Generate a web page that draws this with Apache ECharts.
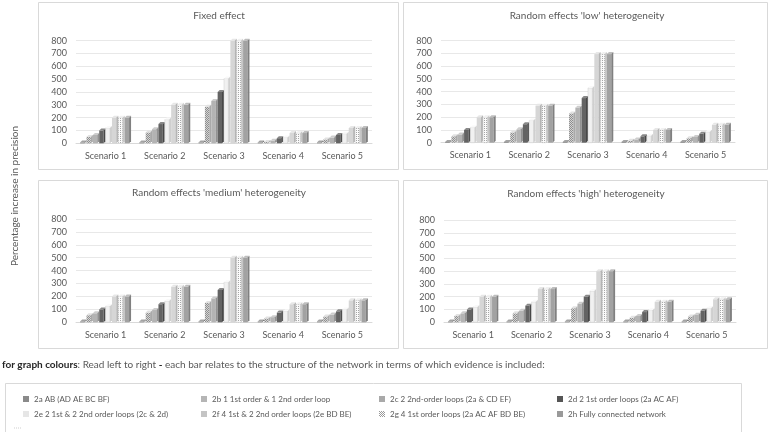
<!DOCTYPE html>
<html><head><meta charset="utf-8">
<script src="https://cdn.jsdelivr.net/npm/echarts@6/dist/echarts.min.js"></script>
<style>html,body{margin:0;padding:0;background:#fff}#c{width:770px;height:432px}</style>
</head><body><div id="c"></div>
<script>
// ---------- data ----------
const categories = ['Scenario 1', 'Scenario 2', 'Scenario 3', 'Scenario 4', 'Scenario 5'];
const seriesNames = [
  '2a AB (AD AE BC BF)',
  '2b 1 1st order & 1 2nd order loop',
  '2c 2 2nd-order loops (2a & CD EF)',
  '2d 2 1st order loops (2a AC AF)',
  '2e 2 1st & 2 2nd order loops (2c & 2d)',
  '2f 4 1st & 2 2nd order loops (2e BD BE)',
  '2g 4 1st order loops (2a AC AF BD BE)',
  '2h Fully connected network'
];
const panelTitles = ['Fixed effect', "Random effects 'low' heterogeneity", "Random effects 'medium' heterogeneity", "Random effects 'high' heterogeneity"];
const yTicks = [0, 100, 200, 300, 400, 500, 600, 700, 800];

// values per scenario, bars left to right (2a ... 2h)
const fixedS1 = [3, 50, 65, 100, 120, 200, 200, 200];
const fixedS2 = [3, 85, 110, 150, 185, 300, 300, 300];
const fixedS3 = [3, 285, 330, 400, 505, 800, 800, 800];
const fixedS4 = [3, 10, 20, 40, 45, 80, 80, 80];
const fixedS5 = [3, 30, 45, 65, 75, 120, 120, 120];

const lowS1 = [3, 50, 65, 100, 120, 200, 200, 200];
const lowS2 = [3, 80, 105, 145, 175, 290, 290, 290];
const lowS3 = [3, 230, 275, 350, 430, 695, 695, 695];
const lowS4 = [3, 15, 25, 50, 55, 100, 100, 100];
const lowS5 = [3, 35, 45, 70, 85, 140, 140, 140];

const medS1 = [3, 55, 70, 100, 125, 200, 200, 200];
const medS2 = [3, 75, 95, 140, 165, 275, 275, 275];
const medS3 = [3, 150, 185, 250, 310, 500, 500, 500];
const medS4 = [3, 30, 40, 75, 85, 140, 140, 140];
const medS5 = [3, 45, 60, 85, 100, 170, 170, 170];

const highS1 = [3, 50, 70, 100, 120, 200, 200, 200];
const highS2 = [3, 70, 90, 130, 160, 260, 260, 260];
const highS3 = [3, 110, 145, 200, 245, 400, 400, 400];
const highS4 = [3, 35, 50, 80, 95, 160, 160, 160];
const highS5 = [3, 45, 60, 90, 110, 180, 180, 180];

const panels = [
  [fixedS1, fixedS2, fixedS3, fixedS4, fixedS5],
  [lowS1, lowS2, lowS3, lowS4, lowS5],
  [medS1, medS2, medS3, medS4, medS5],
  [highS1, highS2, highS3, highS4, highS5]
];

// ---------- styling ----------
const FONT = 'Lato, "Open Sans", sans-serif';
const TXT = '#595959';

function dotPattern(bg, dot, cells) {
  const c = document.createElement('canvas');
  c.width = 2; c.height = 2;
  const ctx = c.getContext('2d');
  ctx.fillStyle = bg; ctx.fillRect(0, 0, 2, 2);
  ctx.fillStyle = dot;
  cells.forEach(p => ctx.fillRect(p[0], p[1], 1, 1));
  return { image: c, repeat: 'repeat' };
}
// front / top / side shades for each bar kind
const shades = [
  { legend: '#8a8a8a', front: '#808080', top: '#a3a3a3', side: '#606060' },
  { legend: '#b5b5b5', front: dotPattern('#d4d4d4', '#8f8f8f', [[0, 0], [1, 1]]), top: '#e2e2e2', side: '#a9a9a9' },
  { legend: '#a9a9a9', front: '#b3b3b3', top: '#cdcdcd', side: '#929292' },
  { legend: '#555555', front: '#636363', top: '#888888', side: '#474747' },
  { legend: '#e6e6e6', front: '#f1f1f1', top: '#f9f9f9', side: '#cfcfcf', stroke: '#cfcfcf' },
  { legend: '#c4c4c4', front: '#d6d6d6', top: '#e7e7e7', side: '#b4b4b4' },
  { legend: '#dcdcdc', front: dotPattern('#fbfbfb', '#a6a6a6', [[0, 0]]), top: '#f1f1f1', side: '#c6c6c6', stroke: '#d0d0d0' },
  { legend: '#9a9a9a', front: '#a2a2a2', top: '#bebebe', side: '#808080' }
];
const legendIconFill = [null, null, null, null, null, null, dotPattern('#ffffff', '#9a9a9a', [[0, 0], [1, 1]]), null];

const grids = [
  { left: 76, top: 40.7, width: 296, height: 102.6 },
  { left: 441, top: 40.7, width: 294, height: 102 },
  { left: 76, top: 219, width: 296, height: 103.3 },
  { left: 444, top: 220, width: 292, height: 102.3 }
];
const titlePos = [[219, 15.7], [587, 15.7], [219, 193], [586, 194]];
const boxes = [[38, 2, 360, 167], [403, 2, 364, 167], [38, 180, 360, 168], [403, 180, 364, 168]];

function make3dRenderer(s) {
  return function (params, api) {
    const cat = api.value(0), val = api.value(1);
    const base = api.coord([cat, 0]);
    const topPt = api.coord([cat, val]);
    const band = api.size([1, 0])[0];
    const groupW = band * 0.86;
    const bw = groupW / 8;
    const d = 2;
    const x0 = base[0] - groupW / 2 + s * bw;
    const yb = base[1], yt = Math.min(topPt[1], yb - 0.8);
    const sh = shades[s];
    const children = [
      { type: 'rect', shape: { x: x0, y: yt, width: bw - d, height: yb - yt },
        style: { fill: sh.front, stroke: sh.stroke || null, lineWidth: sh.stroke ? 0.5 : 0 } },
      { type: 'polygon', shape: { points: [[x0, yt], [x0 + d, yt - d], [x0 + bw, yt - d], [x0 + bw - d, yt]] },
        style: { fill: sh.top } },
      { type: 'polygon', shape: { points: [[x0 + bw - d, yt], [x0 + bw, yt - d], [x0 + bw, yb - d], [x0 + bw - d, yb]] },
        style: { fill: sh.side } }
    ];
    return { type: 'group', children };
  };
}

const xAxes = [], yAxes = [], series = [];
grids.forEach((g, p) => {
  xAxes.push({
    type: 'category', gridIndex: p, data: categories,
    axisLine: { lineStyle: { color: '#d9d9d9' } }, axisTick: { show: false },
    axisLabel: { color: TXT, fontSize: 9, fontFamily: FONT, margin: 8 }
  });
  yAxes.push({
    type: 'value', gridIndex: p, min: yTicks[0], max: yTicks[yTicks.length - 1], interval: 100,
    axisLine: { show: false }, axisTick: { show: false },
    splitLine: { lineStyle: { color: '#e8e8e8' } },
    axisLabel: { color: TXT, fontSize: 9, fontFamily: FONT, margin: 9 }
  });
  seriesNames.forEach((name, s) => {
    series.push({
      type: 'custom', name, xAxisIndex: p, yAxisIndex: p,
      data: panels[p].map((sc, i) => [i, sc[s]]),
      encode: { x: 0, y: 1 },
      renderItem: make3dRenderer(s),
      itemStyle: { color: shades[s].legend },
      silent: true, animation: false
    });
  });
});

const graphics = [];
boxes.forEach(b => graphics.push({
  type: 'rect', shape: { x: b[0] + 0.5, y: b[1] + 0.5, width: b[2], height: b[3] },
  style: { fill: null, stroke: '#d9d9d9', lineWidth: 1 }, silent: true, z: -1
}));
titlePos.forEach((t, i) => graphics.push({
  type: 'text', x: t[0], y: t[1],
  style: { text: panelTitles[i], fill: TXT, font: '10px ' + FONT, textAlign: 'center', textVerticalAlign: 'middle' }
}));
graphics.push({
  type: 'text', x: 15, y: 196, rotation: Math.PI / 2,
  style: { text: 'Percentage increase in precision', fill: TXT, font: '10px ' + FONT, textAlign: 'center', textVerticalAlign: 'middle' }
});
graphics.push({
  type: 'text', x: 2, y: 365,
  style: {
    text: '{b|for graph colours}{n|: Read left to right }{b2|-}{n| each bar relates to the structure of the network in terms of which evidence is included:}',
    textVerticalAlign: 'middle',
    rich: {
      b: { fontWeight: 'bold', fill: '#262626', fontSize: 10, fontFamily: FONT },
      b2: { fontWeight: 'bold', fill: '#262626', fontSize: 10, fontFamily: FONT },
      n: { fill: TXT, fontSize: 10, fontFamily: FONT }
    }
  }
});
graphics.push({
  type: 'rect', shape: { x: 5.5, y: 383.5, width: 736, height: 50 },
  style: { fill: null, stroke: '#d9d9d9', lineWidth: 1 }, silent: true
});
graphics.push({
  type: 'line', shape: { x1: 14, y1: 428, x2: 22, y2: 428 },
  style: { stroke: '#cfcfcf', lineWidth: 1, lineDash: [1, 1] }
});

// one legend per entry so the 4 columns line up like the reference
const legendCols = [23, 201, 379, 557];
const legendRows = [395, 410];
const legends = seriesNames.map((name, i) => ({
  data: [legendIconFill[i] ? { name, itemStyle: { color: legendIconFill[i] } } : name],
  left: legendCols[i % 4], top: legendRows[Math.floor(i / 4)],
  itemWidth: 6, itemHeight: 6, icon: 'rect', padding: 0, selectedMode: false,
  textStyle: { fontSize: 8, color: TXT, fontFamily: FONT }
}));

const option = {
  animation: false,
  backgroundColor: '#fff',
  grid: grids,
  xAxis: xAxes,
  yAxis: yAxes,
  series,
  legend: legends,
  graphic: graphics
};

const chart = echarts.init(document.getElementById('c'), null, { renderer: 'canvas' });
chart.setOption(option);
</script>
</body></html>
